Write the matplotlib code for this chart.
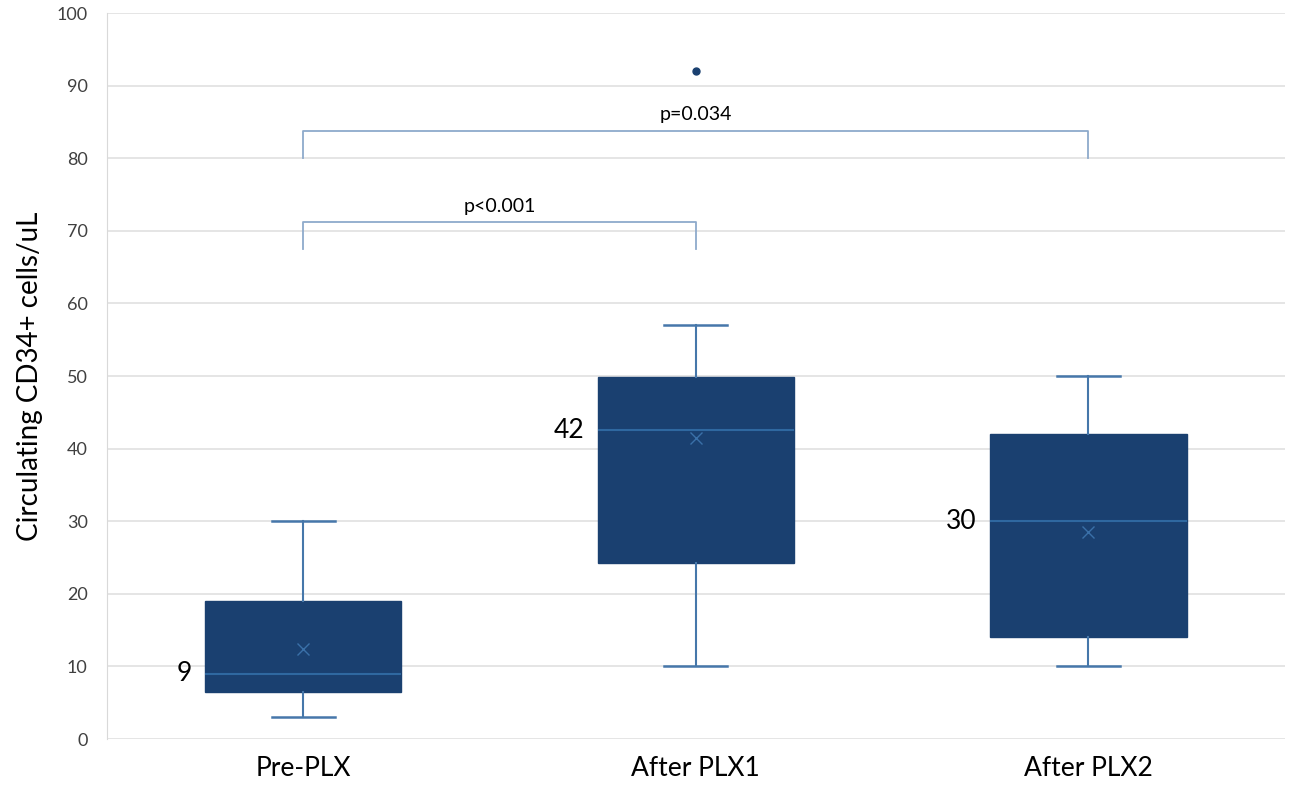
import matplotlib
matplotlib.use("Agg")
import matplotlib.pyplot as plt

plt.rcParams['font.family'] = ['Lato', 'DejaVu Sans']

# box statistics
groups = ['Pre-PLX', 'After PLX1', 'After PLX2']
whislo = [3, 10, 10]
q1 = [6.5, 24.2, 14]
med = [9, 42.5, 30]
mean = [12.4, 41.4, 28.5]
q3 = [19, 49.8, 42]
whishi = [30, 57, 50]
outliers = [[], [92], []]
med_labels = ['9', '42', '30']

# significance brackets: (left group, right group, bracket height, leg bottom, text)
brackets = [(0, 1, 71.2, 67.5, 'p<0.001'), (0, 2, 83.8, 80, 'p=0.034')]

box_col = '#1a4070'
line_col = '#4677aa'

fig = plt.figure(figsize=(12.99, 7.96), dpi=100)
ax = fig.add_axes([0.0824, 0.0716, 0.9066, 0.912])

stats = []
for i, g in enumerate(groups):
    stats.append(dict(label=g, whislo=whislo[i], q1=q1[i], med=med[i], mean=mean[i],
                      q3=q3[i], whishi=whishi[i], fliers=outliers[i]))

ax.bxp(stats, positions=range(len(groups)), widths=0.5, capwidths=0.16, patch_artist=True,
       showmeans=True, showcaps=True,
       boxprops=dict(facecolor=box_col, edgecolor=box_col, linewidth=1),
       medianprops=dict(color='#2f68a0', linewidth=1.5),
       whiskerprops=dict(color=line_col, linewidth=1.5),
       capprops=dict(color=line_col, linewidth=1.8),
       meanprops=dict(marker='x', markeredgecolor='#3a70a8', markersize=8, markeredgewidth=1),
       flierprops=dict(marker='o', markerfacecolor=box_col, markeredgecolor=box_col, markersize=5))

for i, lab in enumerate(med_labels):
    ax.text(i - 0.285, med[i], lab, ha='right', va='center', fontsize=19, color='black')

for a, b, h, lo, txt in brackets:
    ax.plot([a, a, b, b], [lo, h, h, lo], color='#8eaacb', linewidth=1.3)
    ax.text((a + b) / 2, h + 1.0, txt, ha='center', va='bottom', fontsize=14, color='black')

ax.set_xlim(-0.5, 2.5)
ax.set_ylim(0, 100)
ax.set_yticks(range(0, 101, 10))
ax.set_xticks(range(len(groups)))
ax.set_xticklabels(groups, fontsize=19)
ax.tick_params(axis='y', labelsize=13, labelcolor='#404040', length=0, pad=14)
ax.tick_params(axis='x', length=0, pad=12)
ax.yaxis.grid(True, color='#e0e0e0', linewidth=1.2)
ax.set_axisbelow(True)
for s in ['top', 'right', 'bottom']:
    ax.spines[s].set_visible(False)
ax.spines['left'].set_color('#d9d9d9')
ax.set_ylabel('Circulating CD34+ cells/uL', fontsize=20, labelpad=10)

fig.savefig('out.png', dpi=100)
